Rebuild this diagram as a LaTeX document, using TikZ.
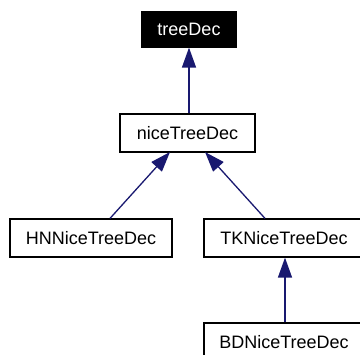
\documentclass[tikz,border=0pt]{standalone}
\usepackage{fontspec}
\setmainfont{Liberation Sans}
\usetikzlibrary{arrows.meta}
\definecolor{edgeblue}{HTML}{191970}
\begin{document}
\begin{tikzpicture}[x=1pt,y=-1pt,
  cls/.style={draw=black,line width=1.2pt,fill=white,inner sep=0pt,
    font=\fontsize{18}{22}\selectfont,text=black},
  inh/.style={draw=edgeblue,line width=1.3pt,
    -{Triangle[length=20pt,width=14pt]},shorten >=0pt}]
\useasboundingbox (0,0) rectangle (360,355);
\clip (0,0) rectangle (360,355);
\node[cls,fill=black,text=white,minimum width=94pt,minimum height=35pt] (tree) at (189,29.5) {treeDec};
\node[cls,minimum width=135pt,minimum height=38pt] (nice) at (187.5,133) {niceTreeDec};
\node[cls,minimum width=162pt,minimum height=38pt] (hn) at (91,238) {HNNiceTreeDec};
\node[cls,minimum width=160pt,minimum height=38pt] (tk) at (284,238) {TKNiceTreeDec};
\node[cls,minimum width=160pt,minimum height=38pt] (bd) at (284,342) {BDNiceTreeDec};
\coordinate (nl) at (170,152);
\coordinate (nr) at (205,152);
\draw[inh] (nice.north -| tree.south) -- (tree.south);
\draw[inh] (hn.north -| 110,0) -- (nl);
\draw[inh] (tk.north -| 265,0) -- (nr);
\draw[inh] (bd.north -| 285,0) -- (tk.south -| 285,0);
\end{tikzpicture}
\end{document}
